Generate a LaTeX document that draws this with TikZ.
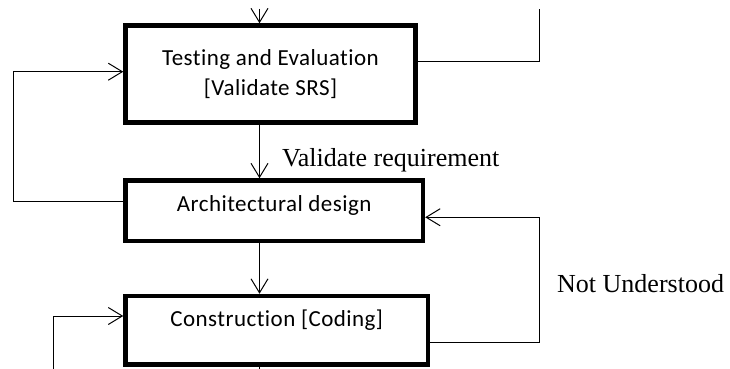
\documentclass[tikz,border=0pt]{standalone}
\usepackage{fontspec}
\setmainfont{Liberation Serif}
\setsansfont[Ligatures=NoCommon,LetterSpace=2]{Carlito}
\usetikzlibrary{arrows.meta,positioning}

\tikzset{
  stage/.style={draw, line width=4.5pt, inner sep=0pt, align=center, font=\sffamily\fontsize{23}{30}\selectfont},
  flow/.style={line width=1pt, -{Straight Barb[length=14pt,width=17pt]}},
  link/.style={line width=1pt},
  note/.style={font=\fontsize{26}{30}\selectfont, inner sep=0pt, anchor=base west},
}

\begin{document}
\begin{tikzpicture} [x=1pt,y=-1pt]
    \useasboundingbox (0,0) rectangle (730,369);
    \node[stage, minimum width=290pt, minimum height=97pt] (test) at (270.5,74) {Testing and Evaluation\\{}[Validate SRS]};
    \node[stage, minimum width=297.5pt, text height=31.2pt, text depth=29.3pt] (arch) at (274.2,210.75) {Architectural design};
    \node[stage, minimum width=302.5pt, text height=30.7pt, text depth=37.8pt] (build) at (276.75,330.25) {Construction [Coding]};

    \coordinate (feed) at (259.5,9);
    \coordinate (back) at (539.3,9);
    \coordinate (redo) at (53.3,369);

    \draw[flow] (feed) -- (test.north -| feed);
    \draw[flow] (test.south -| feed) -- node[note, pos=0.75, xshift=22pt, yshift=-2pt] (valid) {Validate requirement} (arch.north -| feed);
    \draw[flow] (arch.south -| feed) -- (build.north -| feed);
    \draw[link] (build.south -| feed) -- (feed |- redo);
    \draw[link] ([yshift=13pt]test.east) -| (back);
    \draw[flow] ([yshift=9pt]arch.west) -- ++(-110.2,0) |- ([yshift=2.3pt]test.west);
    \draw[flow] (redo) |- ([yshift=14.25pt]build.west);
    \draw[flow] ([yshift=-11.75pt]build.east) -- ++(109.3,0) |- ([yshift=-6.5pt]arch.east);
    \node[note] (nu) at (557,292) {Not Understood};
\end{tikzpicture}
\end{document}
